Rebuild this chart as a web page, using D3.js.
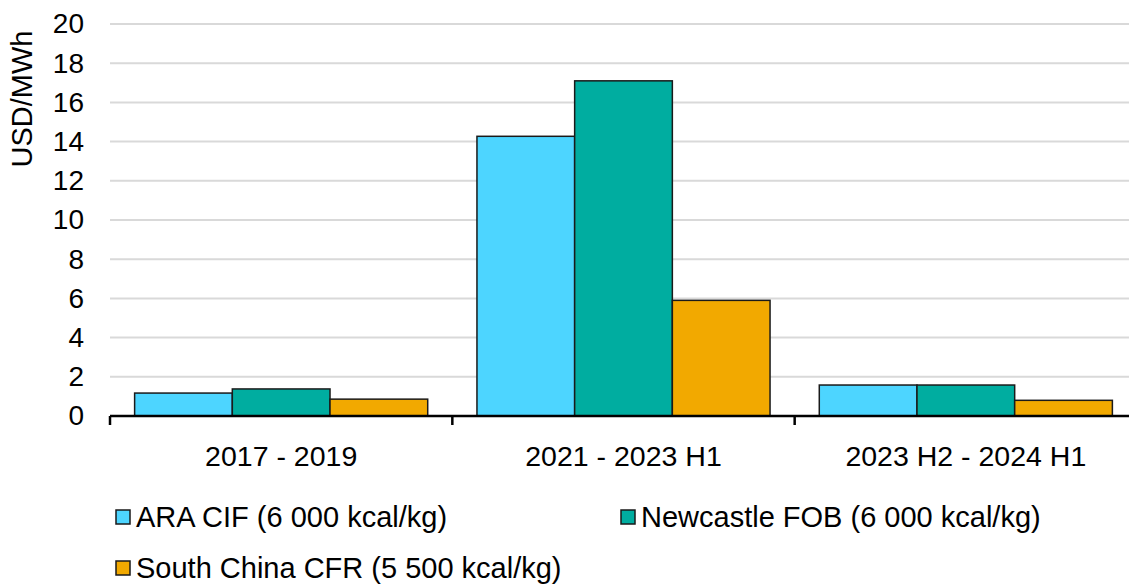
<!DOCTYPE html>
<html>
<head>
<meta charset="utf-8">
<script src="https://cdn.jsdelivr.net/npm/d3@7"></script>
<style>
  html, body { margin: 0; padding: 0; background: #fff; }
  svg { display: block; font-family: "Liberation Sans", Arial, sans-serif; }
</style>
</head>
<body>
<svg id="chart" width="1129" height="584"></svg>
<script>
// Coal price spreads by period (USD/MWh)
const categories = ["2017 - 2019", "2021 - 2023 H1", "2023 H2 - 2024 H1"];
const seriesNames = ["ARA CIF (6 000 kcal/kg)", "Newcastle FOB (6 000 kcal/kg)", "South China CFR (5 500 kcal/kg)"];
const araCif = [1.17, 14.27, 1.58];
const newcastleFob = [1.38, 17.1, 1.58];
const southChinaCfr = [0.86, 5.9, 0.8];
const yTicks = [0, 2, 4, 6, 8, 10, 12, 14, 16, 18, 20];
const colors = ["#4dd5ff", "#00ada0", "#f2a900"];

const seriesValues = [araCif, newcastleFob, southChinaCfr];

const svg = d3.select("#chart");
const plotLeft = 110, plotRight = 1137, plotTop = 24, plotBottom = 416;

const x0 = d3.scaleBand().domain(categories).range([plotLeft, plotRight]).paddingInner(0).paddingOuter(0);
const x1 = d3.scaleBand().domain(seriesNames).range([0, x0.bandwidth()]).paddingInner(0).paddingOuter(0.252);
const y = d3.scaleLinear().domain([0, 20]).range([plotBottom, plotTop]);

// Gridlines
svg.append("g")
  .selectAll("line")
  .data(yTicks.filter(d => d > 0))
  .join("line")
  .attr("x1", plotLeft).attr("x2", 1129)
  .attr("y1", d => y(d)).attr("y2", d => y(d))
  .attr("stroke", "#d9d9d9").attr("stroke-width", 2);

// Y axis labels
const yAxis = d3.axisLeft(y).tickValues(yTicks).tickSize(0).tickPadding(26);
const gy = svg.append("g").attr("transform", `translate(${plotLeft},0)`).call(yAxis);
gy.select(".domain").remove();
gy.selectAll("text").attr("font-size", 28).attr("fill", "#000")
  .attr("font-family", "Liberation Sans, Arial, sans-serif");

// Bars
const groups = svg.append("g")
  .selectAll("g")
  .data(categories)
  .join("g")
  .attr("transform", d => `translate(${x0(d)},0)`);

groups.selectAll("rect")
  .data((c, ci) => seriesNames.map((s, si) => ({ s, si, v: seriesValues[si][ci] })))
  .join("rect")
  .attr("x", d => x1(d.s))
  .attr("width", x1.bandwidth())
  .attr("y", d => y(d.v))
  .attr("height", d => y(0) - y(d.v))
  .attr("fill", d => colors[d.si])
  .attr("stroke", "#1a1a1a")
  .attr("stroke-width", 1.5);

// X axis
const xAxis = d3.axisBottom(x0).tickSize(0).tickPadding(30);
const gx = svg.append("g").attr("transform", `translate(0,${plotBottom})`).call(xAxis);
gx.select(".domain").attr("stroke", "#000").attr("stroke-width", 2.5)
  .attr("d", `M${plotLeft},0H1129`);
gx.selectAll("text").attr("font-size", 28.5).attr("fill", "#000")
  .attr("font-family", "Liberation Sans, Arial, sans-serif");

// Category separators on the x axis
svg.append("g")
  .selectAll("line")
  .data(categories)
  .join("line")
  .attr("x1", d => x0(d)).attr("x2", d => x0(d))
  .attr("y1", plotBottom).attr("y2", plotBottom + 9)
  .attr("stroke", "#000").attr("stroke-width", 2.5);

// Y axis title
svg.append("text")
  .attr("transform", "translate(32,99) rotate(-90)")
  .attr("text-anchor", "middle")
  .attr("font-size", 29)
  .attr("fill", "#000")
  .text("USD/MWh");

// Legend
const legendPos = [[116, 517], [621, 517], [116, 568]];
const legend = svg.append("g")
  .selectAll("g")
  .data(seriesNames)
  .join("g")
  .attr("transform", (d, i) => `translate(${legendPos[i][0]},${legendPos[i][1]})`);

legend.append("rect")
  .attr("x", 0).attr("y", -7).attr("width", 14).attr("height", 14)
  .attr("fill", (d, i) => colors[i])
  .attr("stroke", "#1a1a1a").attr("stroke-width", 1.5);

legend.append("text")
  .attr("x", 20).attr("y", 0)
  .attr("dy", "0.35em")
  .attr("font-size", 29)
  .attr("fill", "#000")
  .text(d => d);
</script>
</body>
</html>
